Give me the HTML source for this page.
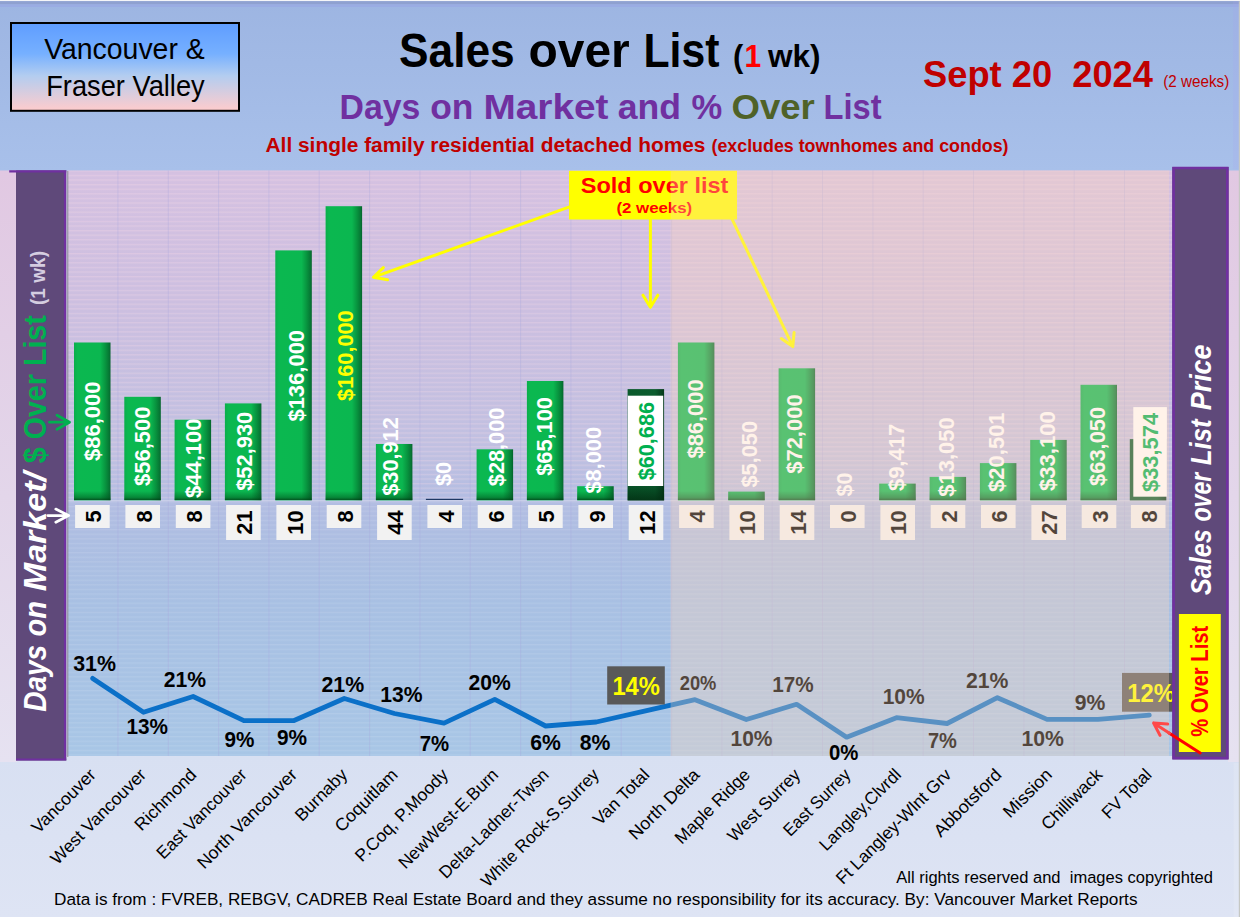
<!DOCTYPE html>
<html lang="en"><head><meta charset="utf-8"><title>Sales over List - Vancouver &amp; Fraser Valley</title>
<style>
html,body{margin:0;padding:0;background:#a3b9e6;}
body{width:1240px;height:917px;overflow:hidden;}
svg{display:block;font-family:"Liberation Sans", sans-serif;}
text{font-family:"Liberation Sans", sans-serif;white-space:pre;}
</style></head><body>
<svg width="1240" height="917" viewBox="0 0 1240 917">
<defs>
<linearGradient id="gHead" x1="0" y1="0" x2="0" y2="1"><stop offset="0" stop-color="#9db5e2"/><stop offset="1" stop-color="#a8c0ea"/></linearGradient>
<linearGradient id="gSide" x1="0" y1="0" x2="0" y2="1"><stop offset="0" stop-color="#e1c8e2"/><stop offset="0.55" stop-color="#e3d6ea"/><stop offset="1" stop-color="#e6e2f1"/></linearGradient>
<linearGradient id="gFoot" x1="0" y1="0" x2="0" y2="1"><stop offset="0" stop-color="#d8e0f2"/><stop offset="1" stop-color="#dee4f4"/></linearGradient>
<linearGradient id="gPlot" x1="0" y1="0" x2="0" y2="1">
 <stop offset="0" stop-color="#d5c1e1"/><stop offset="0.22" stop-color="#cdbfe0"/><stop offset="0.48" stop-color="#c0c0e1"/><stop offset="0.56" stop-color="#b3bde2"/><stop offset="0.63" stop-color="#adbee2"/><stop offset="0.74" stop-color="#a8c0e3"/><stop offset="1" stop-color="#a8c6e6"/></linearGradient>
<linearGradient id="gBox" x1="0" y1="0" x2="0" y2="1"><stop offset="0" stop-color="#5f9dff"/><stop offset="0.35" stop-color="#76b0ff"/><stop offset="0.6" stop-color="#b3cdf0"/><stop offset="1" stop-color="#ffcccc"/></linearGradient>
<linearGradient id="gBar" x1="0" y1="0" x2="1" y2="0"><stop offset="0" stop-color="#0aae4b"/><stop offset="0.1" stop-color="#0bb850"/><stop offset="0.72" stop-color="#0bb750"/><stop offset="0.86" stop-color="#08943f"/><stop offset="0.97" stop-color="#067433"/><stop offset="1" stop-color="#05602b"/></linearGradient>
<linearGradient id="gBarB" x1="0" y1="0" x2="0" y2="1"><stop offset="0" stop-color="#004d1c" stop-opacity="0"/><stop offset="0.7" stop-color="#004d1c" stop-opacity="0.45"/><stop offset="1" stop-color="#003d14" stop-opacity="0.8"/></linearGradient>
<linearGradient id="gBarD" x1="0" y1="0" x2="1" y2="0"><stop offset="0" stop-color="#0a5a2c"/><stop offset="0.75" stop-color="#0b5c2e"/><stop offset="1" stop-color="#04381a"/></linearGradient>
<linearGradient id="gBarDB" x1="0" y1="0" x2="0" y2="1"><stop offset="0" stop-color="#012a10" stop-opacity="0.15"/><stop offset="1" stop-color="#012a10" stop-opacity="0.75"/></linearGradient>
<pattern id="stripes" width="8" height="4.6" patternUnits="userSpaceOnUse"><rect x="0" y="0" width="8" height="1.3" fill="#ffffff" fill-opacity="0.10"/></pattern>
<pattern id="stripesP" width="8" height="4.6" patternUnits="userSpaceOnUse"><rect x="0" y="0" width="8" height="1.3" fill="#ffd0d8" fill-opacity="0.16"/></pattern>
</defs>

<rect x="0" y="0" width="1240" height="171" fill="url(#gHead)"/>
<rect x="0" y="0" width="1240" height="1.2" fill="#f4f5f8"/>
<rect x="0" y="1.2" width="1240" height="3.2" fill="#8fa1d0"/>
<rect x="0" y="4.4" width="1240" height="2.6" fill="#9aace3"/>
<rect x="0" y="756" width="1240" height="161" fill="url(#gFoot)"/>
<rect x="0" y="170.5" width="17" height="591.5" fill="url(#gSide)"/>
<rect x="1228" y="170.5" width="12" height="591.5" fill="url(#gSide)"/>
<rect x="1233" y="1.2" width="5.8" height="168" fill="#a8a0f0" fill-opacity="0.16"/>
<rect x="1233.6" y="763" width="5.2" height="154" fill="#ffffff" fill-opacity="0.14"/>
<rect x="67.5" y="170.5" width="1105.0" height="585.5" fill="url(#gPlot)"/>
<rect x="67.5" y="170.5" width="1105.0" height="585.5" fill="url(#stripes)"/>
<rect x="67.5" y="170.5" width="1105.0" height="329.5" fill="url(#stripesP)"/>
<path d="M117.9 170.5V756 M168.3 170.5V756 M218.6 170.5V756 M268.9 170.5V756 M319.2 170.5V756 M369.6 170.5V756 M419.9 170.5V756 M470.2 170.5V756 M520.6 170.5V756 M570.9 170.5V756 M621.2 170.5V756 M671.6 170.5V756 M721.9 170.5V756 M772.2 170.5V756 M822.5 170.5V756 M872.9 170.5V756 M923.2 170.5V756 M973.5 170.5V756 M1023.9 170.5V756 M1074.2 170.5V756 M1124.5 170.5V756" stroke="#a9a6dc" stroke-opacity="0.32" stroke-width="1" fill="none"/>
<rect x="67.5" y="500.0" width="1105.0" height="1.4" fill="#d3d6ec" fill-opacity="0.7"/>
<rect x="66.3" y="171" width="1" height="586" fill="#f1ecf6"/>
<rect x="67.3" y="171" width="1" height="586" fill="#8b8b93"/>
<rect x="74.0" y="342.5" width="36.5" height="157.9" fill="url(#gBar)"/>
<rect x="74.0" y="491.0" width="36.5" height="9.0" fill="url(#gBarB)"/>
<rect x="124.3" y="396.8" width="36.5" height="103.6" fill="url(#gBar)"/>
<rect x="124.3" y="491.0" width="36.5" height="9.0" fill="url(#gBarB)"/>
<rect x="174.6" y="419.7" width="36.5" height="80.7" fill="url(#gBar)"/>
<rect x="174.6" y="491.0" width="36.5" height="9.0" fill="url(#gBarB)"/>
<rect x="224.9" y="403.4" width="36.5" height="97.0" fill="url(#gBar)"/>
<rect x="224.9" y="491.0" width="36.5" height="9.0" fill="url(#gBarB)"/>
<rect x="275.3" y="250.4" width="36.5" height="250.0" fill="url(#gBar)"/>
<rect x="275.3" y="491.0" width="36.5" height="9.0" fill="url(#gBarB)"/>
<rect x="325.6" y="206.2" width="36.5" height="294.2" fill="url(#gBar)"/>
<rect x="325.6" y="491.0" width="36.5" height="9.0" fill="url(#gBarB)"/>
<rect x="375.9" y="444.0" width="36.5" height="56.4" fill="url(#gBar)"/>
<rect x="375.9" y="491.0" width="36.5" height="9.0" fill="url(#gBarB)"/>
<rect x="425.9" y="498.8" width="37.2" height="1.2" fill="#1f3864"/>
<rect x="476.6" y="449.3" width="36.5" height="51.1" fill="url(#gBar)"/>
<rect x="476.6" y="491.0" width="36.5" height="9.0" fill="url(#gBarB)"/>
<rect x="526.9" y="381.0" width="36.5" height="119.4" fill="url(#gBar)"/>
<rect x="526.9" y="491.0" width="36.5" height="9.0" fill="url(#gBarB)"/>
<rect x="577.2" y="486.2" width="36.5" height="14.2" fill="url(#gBar)"/>
<rect x="577.2" y="491.0" width="36.5" height="9.0" fill="url(#gBarB)"/>
<rect x="627.6" y="389.1" width="36.5" height="111.3" fill="url(#gBarD)"/>
<rect x="627.6" y="486.0" width="36.5" height="14.4" fill="url(#gBarDB)"/>
<rect x="677.9" y="342.5" width="36.5" height="157.9" fill="url(#gBar)"/>
<rect x="677.9" y="491.0" width="36.5" height="9.0" fill="url(#gBarB)"/>
<rect x="728.2" y="491.6" width="36.5" height="8.8" fill="url(#gBar)"/>
<rect x="728.2" y="491.2" width="36.5" height="8.8" fill="url(#gBarB)"/>
<rect x="778.6" y="368.3" width="36.5" height="132.1" fill="url(#gBar)"/>
<rect x="778.6" y="491.0" width="36.5" height="9.0" fill="url(#gBarB)"/>
<rect x="879.2" y="483.6" width="36.5" height="16.8" fill="url(#gBar)"/>
<rect x="879.2" y="491.0" width="36.5" height="9.0" fill="url(#gBarB)"/>
<rect x="929.6" y="476.9" width="36.5" height="23.5" fill="url(#gBar)"/>
<rect x="929.6" y="491.0" width="36.5" height="9.0" fill="url(#gBarB)"/>
<rect x="979.9" y="463.1" width="36.5" height="37.3" fill="url(#gBar)"/>
<rect x="979.9" y="491.0" width="36.5" height="9.0" fill="url(#gBarB)"/>
<rect x="1030.2" y="439.9" width="36.5" height="60.5" fill="url(#gBar)"/>
<rect x="1030.2" y="491.0" width="36.5" height="9.0" fill="url(#gBarB)"/>
<rect x="1080.5" y="384.8" width="36.5" height="115.6" fill="url(#gBar)"/>
<rect x="1080.5" y="491.0" width="36.5" height="9.0" fill="url(#gBarB)"/>
<rect x="1129.8" y="439.1" width="36.5" height="61.3" fill="url(#gBarD)"/>
<rect x="627.8" y="395.7" width="35.4" height="90.3" fill="#ffffff"/>
<rect x="1133.3" y="407.1" width="33.6" height="89.6" fill="#ffffff"/>
<text font-size="22.62" font-weight="700" fill="#ffffff" textLength="79.40" lengthAdjust="spacingAndGlyphs" transform="translate(100.10 460.90) rotate(-90)" >$86,000</text>
<text font-size="22.62" font-weight="700" fill="#ffffff" textLength="79.40" lengthAdjust="spacingAndGlyphs" transform="translate(150.03 485.90) rotate(-90)" >$56,500</text>
<text font-size="22.62" font-weight="700" fill="#ffffff" textLength="79.40" lengthAdjust="spacingAndGlyphs" transform="translate(200.56 498.00) rotate(-90)" >$44,100</text>
<text font-size="22.62" font-weight="700" fill="#ffffff" textLength="79.10" lengthAdjust="spacingAndGlyphs" transform="translate(252.49 490.80) rotate(-90)" >$52,930</text>
<text font-size="22.62" font-weight="700" fill="#ffffff" textLength="91.70" lengthAdjust="spacingAndGlyphs" transform="translate(303.52 421.60) rotate(-90)" >$136,000</text>
<text font-size="22.62" font-weight="700" fill="#ffff00" textLength="90.60" lengthAdjust="spacingAndGlyphs" transform="translate(353.15 400.90) rotate(-90)" >$160,000</text>
<text font-size="22.62" font-weight="700" fill="#ffffff" textLength="78.60" lengthAdjust="spacingAndGlyphs" transform="translate(398.18 495.80) rotate(-90)" >$30,912</text>
<text font-size="22.62" font-weight="700" fill="#ffffff" textLength="24.10" lengthAdjust="spacingAndGlyphs" transform="translate(450.61 486.00) rotate(-90)" >$0</text>
<text font-size="22.62" font-weight="700" fill="#ffffff" textLength="78.60" lengthAdjust="spacingAndGlyphs" transform="translate(503.74 486.20) rotate(-90)" >$28,000</text>
<text font-size="22.62" font-weight="700" fill="#ffffff" textLength="78.70" lengthAdjust="spacingAndGlyphs" transform="translate(551.87 475.80) rotate(-90)" >$65,100</text>
<text font-size="22.62" font-weight="700" fill="#ffffff" textLength="66.50" lengthAdjust="spacingAndGlyphs" transform="translate(600.80 493.50) rotate(-90)" >$8,000</text>
<text font-size="22.62" font-weight="700" fill="#00b050" textLength="78.30" lengthAdjust="spacingAndGlyphs" transform="translate(653.93 480.30) rotate(-90)" >$60,686</text>
<text font-size="22.62" font-weight="700" fill="#ffffff" textLength="79.10" lengthAdjust="spacingAndGlyphs" transform="translate(703.16 458.50) rotate(-90)" >$86,000</text>
<text font-size="22.62" font-weight="700" fill="#ffffff" textLength="66.50" lengthAdjust="spacingAndGlyphs" transform="translate(756.69 487.50) rotate(-90)" >$5,050</text>
<text font-size="22.62" font-weight="700" fill="#ffffff" textLength="79.40" lengthAdjust="spacingAndGlyphs" transform="translate(801.62 473.80) rotate(-90)" >$72,000</text>
<text font-size="22.62" font-weight="700" fill="#ffffff" textLength="23.80" lengthAdjust="spacingAndGlyphs" transform="translate(851.75 496.40) rotate(-90)" >$0</text>
<text font-size="22.62" font-weight="700" fill="#ffffff" textLength="67.30" lengthAdjust="spacingAndGlyphs" transform="translate(903.78 491.10) rotate(-90)" >$9,417</text>
<text font-size="22.62" font-weight="700" fill="#ffffff" textLength="79.40" lengthAdjust="spacingAndGlyphs" transform="translate(954.11 496.70) rotate(-90)" >$13,050</text>
<text font-size="22.62" font-weight="700" fill="#ffffff" textLength="79.50" lengthAdjust="spacingAndGlyphs" transform="translate(1004.14 491.90) rotate(-90)" >$20,501</text>
<text font-size="22.62" font-weight="700" fill="#ffffff" textLength="79.90" lengthAdjust="spacingAndGlyphs" transform="translate(1054.57 491.10) rotate(-90)" >$33,100</text>
<text font-size="22.62" font-weight="700" fill="#ffffff" textLength="79.10" lengthAdjust="spacingAndGlyphs" transform="translate(1105.10 485.90) rotate(-90)" >$63,050</text>
<text font-size="22.62" font-weight="700" fill="#00b050" textLength="79.10" lengthAdjust="spacingAndGlyphs" transform="translate(1158.15 492.00) rotate(-90)" >$33,574</text>
<rect x="75.1" y="505" width="34.6" height="23" fill="#f2f2f2"/>
<text font-size="22.62" font-weight="700" fill="#000" textLength="12.16" lengthAdjust="spacingAndGlyphs" transform="translate(101.20 522.58) rotate(-90)" >5</text>
<rect x="125.4" y="505" width="34.6" height="23" fill="#f2f2f2"/>
<text font-size="22.62" font-weight="700" fill="#000" textLength="12.16" lengthAdjust="spacingAndGlyphs" transform="translate(151.53 522.58) rotate(-90)" >8</text>
<rect x="175.8" y="505" width="34.6" height="23" fill="#f2f2f2"/>
<text font-size="22.62" font-weight="700" fill="#000" textLength="12.16" lengthAdjust="spacingAndGlyphs" transform="translate(201.86 522.58) rotate(-90)" >8</text>
<rect x="226.1" y="505" width="34.6" height="35" fill="#f2f2f2"/>
<text font-size="22.62" font-weight="700" fill="#000" textLength="24.33" lengthAdjust="spacingAndGlyphs" transform="translate(252.19 534.66) rotate(-90)" >21</text>
<rect x="276.4" y="505" width="34.6" height="35" fill="#f2f2f2"/>
<text font-size="22.62" font-weight="700" fill="#000" textLength="24.33" lengthAdjust="spacingAndGlyphs" transform="translate(302.52 534.66) rotate(-90)" >10</text>
<rect x="326.7" y="505" width="34.6" height="23" fill="#f2f2f2"/>
<text font-size="22.62" font-weight="700" fill="#000" textLength="12.16" lengthAdjust="spacingAndGlyphs" transform="translate(352.85 522.58) rotate(-90)" >8</text>
<rect x="377.1" y="505" width="34.6" height="35" fill="#f2f2f2"/>
<text font-size="22.62" font-weight="700" fill="#000" textLength="24.33" lengthAdjust="spacingAndGlyphs" transform="translate(403.18 534.66) rotate(-90)" >44</text>
<rect x="427.4" y="505" width="34.6" height="23" fill="#f2f2f2"/>
<text font-size="22.62" font-weight="700" fill="#000" textLength="12.16" lengthAdjust="spacingAndGlyphs" transform="translate(453.51 522.58) rotate(-90)" >4</text>
<rect x="477.7" y="505" width="34.6" height="23" fill="#f2f2f2"/>
<text font-size="22.62" font-weight="700" fill="#000" textLength="12.16" lengthAdjust="spacingAndGlyphs" transform="translate(503.84 522.58) rotate(-90)" >6</text>
<rect x="528.1" y="505" width="34.6" height="23" fill="#f2f2f2"/>
<text font-size="22.62" font-weight="700" fill="#000" textLength="12.16" lengthAdjust="spacingAndGlyphs" transform="translate(554.17 522.58) rotate(-90)" >5</text>
<rect x="578.4" y="505" width="34.6" height="23" fill="#f2f2f2"/>
<text font-size="22.62" font-weight="700" fill="#000" textLength="12.16" lengthAdjust="spacingAndGlyphs" transform="translate(604.50 522.58) rotate(-90)" >9</text>
<rect x="628.7" y="505" width="34.6" height="35" fill="#f2f2f2"/>
<text font-size="22.62" font-weight="700" fill="#000" textLength="24.33" lengthAdjust="spacingAndGlyphs" transform="translate(654.83 534.66) rotate(-90)" >12</text>
<rect x="679.1" y="505" width="34.6" height="23" fill="#f2f2f2"/>
<text font-size="22.62" font-weight="700" fill="#000" textLength="12.16" lengthAdjust="spacingAndGlyphs" transform="translate(705.16 522.58) rotate(-90)" >4</text>
<rect x="729.4" y="505" width="34.6" height="35" fill="#f2f2f2"/>
<text font-size="22.62" font-weight="700" fill="#000" textLength="24.33" lengthAdjust="spacingAndGlyphs" transform="translate(755.49 534.66) rotate(-90)" >10</text>
<rect x="779.7" y="505" width="34.6" height="35" fill="#f2f2f2"/>
<text font-size="22.62" font-weight="700" fill="#000" textLength="24.33" lengthAdjust="spacingAndGlyphs" transform="translate(805.82 534.66) rotate(-90)" >14</text>
<rect x="830.0" y="505" width="34.6" height="23" fill="#f2f2f2"/>
<text font-size="22.62" font-weight="700" fill="#000" textLength="12.16" lengthAdjust="spacingAndGlyphs" transform="translate(856.15 522.58) rotate(-90)" >0</text>
<rect x="880.4" y="505" width="34.6" height="35" fill="#f2f2f2"/>
<text font-size="22.62" font-weight="700" fill="#000" textLength="24.33" lengthAdjust="spacingAndGlyphs" transform="translate(906.48 534.66) rotate(-90)" >10</text>
<rect x="930.7" y="505" width="34.6" height="23" fill="#f2f2f2"/>
<text font-size="22.62" font-weight="700" fill="#000" textLength="12.16" lengthAdjust="spacingAndGlyphs" transform="translate(956.81 522.58) rotate(-90)" >2</text>
<rect x="981.0" y="505" width="34.6" height="23" fill="#f2f2f2"/>
<text font-size="22.62" font-weight="700" fill="#000" textLength="12.16" lengthAdjust="spacingAndGlyphs" transform="translate(1007.14 522.58) rotate(-90)" >6</text>
<rect x="1031.4" y="505" width="34.6" height="35" fill="#f2f2f2"/>
<text font-size="22.62" font-weight="700" fill="#000" textLength="24.33" lengthAdjust="spacingAndGlyphs" transform="translate(1057.47 534.66) rotate(-90)" >27</text>
<rect x="1081.7" y="505" width="34.6" height="23" fill="#f2f2f2"/>
<text font-size="22.62" font-weight="700" fill="#000" textLength="12.16" lengthAdjust="spacingAndGlyphs" transform="translate(1107.80 522.58) rotate(-90)" >3</text>
<rect x="1130.9" y="505" width="34.6" height="23" fill="#f2f2f2"/>
<text font-size="22.62" font-weight="700" fill="#000" textLength="12.16" lengthAdjust="spacingAndGlyphs" transform="translate(1157.00 522.58) rotate(-90)" >8</text>
<path d="M92.7 678.4 L143.5 712.3 L193.1 696.5 L243.9 720.7 L293.5 720.7 L344.3 698.5 L394.4 713.5 L444.0 723.2 L494.8 699.4 L545.6 726.0 L596.3 722.0 L645.5 710.8 L695.0 699.7 L746.3 719.5 L796.6 704.3 L846.6 737.2 L896.5 717.7 L947.1 723.5 L997.4 697.7 L1047.1 719.4 L1098.0 719.4 L1149.3 715.1" stroke="#0b70c8" stroke-width="4.8" fill="none" stroke-linejoin="round" stroke-linecap="round"/>
<text font-size="22.62" font-weight="700" fill="#000" textLength="42.80" lengthAdjust="spacingAndGlyphs" x="73.20" y="671.10" >31%</text>
<text font-size="22.62" font-weight="700" fill="#000" textLength="41.50" lengthAdjust="spacingAndGlyphs" x="126.50" y="733.90" >13%</text>
<text font-size="22.62" font-weight="700" fill="#000" textLength="42.30" lengthAdjust="spacingAndGlyphs" x="163.70" y="687.10" >21%</text>
<text font-size="22.62" font-weight="700" fill="#000" textLength="29.90" lengthAdjust="spacingAndGlyphs" x="224.50" y="747.10" >9%</text>
<text font-size="22.62" font-weight="700" fill="#000" textLength="30.10" lengthAdjust="spacingAndGlyphs" x="277.00" y="744.80" >9%</text>
<text font-size="22.62" font-weight="700" fill="#000" textLength="42.70" lengthAdjust="spacingAndGlyphs" x="321.50" y="692.30" >21%</text>
<text font-size="22.62" font-weight="700" fill="#000" textLength="42.30" lengthAdjust="spacingAndGlyphs" x="380.20" y="701.80" >13%</text>
<text font-size="22.62" font-weight="700" fill="#000" textLength="29.40" lengthAdjust="spacingAndGlyphs" x="419.70" y="750.90" >7%</text>
<text font-size="22.62" font-weight="700" fill="#000" textLength="42.20" lengthAdjust="spacingAndGlyphs" x="468.60" y="690.40" >20%</text>
<text font-size="22.62" font-weight="700" fill="#000" textLength="30.60" lengthAdjust="spacingAndGlyphs" x="530.20" y="750.40" >6%</text>
<text font-size="22.62" font-weight="700" fill="#000" textLength="30.60" lengthAdjust="spacingAndGlyphs" x="579.80" y="750.40" >8%</text>
<text font-size="19.32" font-weight="700" fill="#000" textLength="36.70" lengthAdjust="spacingAndGlyphs" x="679.70" y="690.40" >20%</text>
<text font-size="22.62" font-weight="700" fill="#000" textLength="42.00" lengthAdjust="spacingAndGlyphs" x="730.50" y="746.10" >10%</text>
<text font-size="21.68" font-weight="700" fill="#000" textLength="41.40" lengthAdjust="spacingAndGlyphs" x="772.20" y="692.30" >17%</text>
<text font-size="22.62" font-weight="700" fill="#000" textLength="42.00" lengthAdjust="spacingAndGlyphs" x="882.70" y="704.30" >10%</text>
<text font-size="22.62" font-weight="700" fill="#000" textLength="29.00" lengthAdjust="spacingAndGlyphs" x="927.90" y="747.90" >7%</text>
<text font-size="22.62" font-weight="700" fill="#000" textLength="42.50" lengthAdjust="spacingAndGlyphs" x="966.00" y="687.60" >21%</text>
<text font-size="22.62" font-weight="700" fill="#000" textLength="42.50" lengthAdjust="spacingAndGlyphs" x="1021.50" y="745.60" >10%</text>
<text font-size="22.62" font-weight="700" fill="#000" textLength="30.60" lengthAdjust="spacingAndGlyphs" x="1074.70" y="710.10" >9%</text>
<rect x="607.2" y="666.3" width="57.6" height="38.2" fill="#595959"/>
<text font-size="25.16" font-weight="700" fill="#ffff00" textLength="47.60" lengthAdjust="spacingAndGlyphs" x="612.40" y="694.80" >14%</text>
<rect x="1122" y="672.9" width="51" height="38.8" fill="#595959"/>
<text font-size="25.16" font-weight="700" fill="#ffff00" textLength="47.60" lengthAdjust="spacingAndGlyphs" x="1127.20" y="702.00" >12%</text>
<g stroke="#ffff00" stroke-width="3" fill="none" stroke-linecap="round" stroke-linejoin="round">
<path d="M569.5 206.9 L373.6 277.2 M383.3 267.6 L373.4 277.3 L387.6 279.7"/>
<path d="M650.4 219 V306.5 M643 295.2 L650.4 307.3 L657.8 295.2"/>
<path d="M732.2 219.3 L792.7 346.3 M781.3 338.5 L792.8 346.6 L794.1 332.4"/>
</g>
<rect x="569" y="170.8" width="168" height="48.7" fill="#ffff00"/>
<text font-size="22.81" font-weight="700" fill="#ff0000" textLength="147.60" lengthAdjust="spacingAndGlyphs" x="580.80" y="193.00" >Sold over list</text>
<text font-size="15.55" font-weight="700" fill="#ff0000" textLength="75.80" lengthAdjust="spacingAndGlyphs" x="616.40" y="212.80" >(2 weeks)</text>
<rect x="670.6" y="170.5" width="498.4" height="585.5" fill="#ffd8bc" fill-opacity="0.32"/>
<text font-size="22.62" font-weight="700" fill="#000" textLength="29.40" lengthAdjust="spacingAndGlyphs" x="829.00" y="760.20" >0%</text>
<rect x="16" y="170.5" width="50.3" height="590" fill="#5f497a"/>
<path d="M9.2 171.4H66.3 M65 170.5V760.5 M16 759.5H66.3" stroke="#7030a0" stroke-width="2.2" fill="none"/>
<text font-size="32.05" font-weight="700" font-style="italic" fill="#ffffff" textLength="66.80" lengthAdjust="spacingAndGlyphs" transform="translate(46.20 711.70) rotate(-90)" >Days</text>
<text font-size="32.05" font-weight="700" font-style="italic" fill="#ffffff" textLength="35.60" lengthAdjust="spacingAndGlyphs" transform="translate(46.20 636.60) rotate(-90)" >on</text>
<text font-size="32.05" font-weight="700" font-style="italic" fill="#ffffff" textLength="119.20" lengthAdjust="spacingAndGlyphs" transform="translate(46.20 591.20) rotate(-90)" >Market/</text>
<text font-size="31.10" font-weight="700" fill="#00b050" textLength="148.00" lengthAdjust="spacingAndGlyphs" transform="translate(45.80 463.20) rotate(-90)" >$ Over List</text>
<text font-size="20.73" font-weight="700" fill="#d5cde0" textLength="54.00" lengthAdjust="spacingAndGlyphs" transform="translate(45.40 305.00) rotate(-90)" >(1 wk)</text>
<path d="M49.5 422.2H69 M57 415.2L69.5 422.2L57 429.2" stroke="#00b050" stroke-width="2.8" fill="none" stroke-linecap="round" stroke-linejoin="round"/>
<path d="M47.8 515.6H68.3 M55.8 509.1L68.6 515.6L55.8 522.2" stroke="#ffffff" stroke-width="2.8" fill="none" stroke-linecap="round" stroke-linejoin="round"/>
<rect x="1172.3" y="167" width="56.3" height="592.3" fill="#5f497a"/>
<path d="M1173.6 167V759.3 M1227.3 167V759.3 M1172.3 168H1228.6 M1172.3 758.1H1228.6" stroke="#7030a0" stroke-width="2.6" fill="none"/>
<text font-size="30.16" font-weight="700" font-style="italic" fill="#ffffff" textLength="65.70" lengthAdjust="spacingAndGlyphs" transform="translate(1211.00 594.90) rotate(-90)" >Sales</text>
<text font-size="30.16" font-weight="700" font-style="italic" fill="#ffffff" textLength="48.90" lengthAdjust="spacingAndGlyphs" transform="translate(1211.00 521.60) rotate(-90)" >over</text>
<text font-size="30.16" font-weight="700" font-style="italic" fill="#ffffff" textLength="45.90" lengthAdjust="spacingAndGlyphs" transform="translate(1211.00 465.20) rotate(-90)" >List</text>
<text font-size="30.16" font-weight="700" font-style="italic" fill="#ffffff" textLength="65.70" lengthAdjust="spacingAndGlyphs" transform="translate(1211.00 410.20) rotate(-90)" >Price</text>
<rect x="1178.9" y="614" width="41.9" height="138" fill="#ffff00"/>
<text font-size="24.50" font-weight="700" fill="#ff0000" textLength="111.00" lengthAdjust="spacingAndGlyphs" transform="translate(1207.50 736.80) rotate(-90)" >% Over List</text>
<path d="M1200.2 753 L1169 733" stroke="#ff0000" stroke-width="3" fill="none" stroke-linecap="round"/>
<path d="M1169.5 733.3 L1153.6 723.1 M1167.7 724.1 L1153.6 723.1 L1160 735.3" stroke="#ff4848" stroke-width="3" fill="none" stroke-linecap="round" stroke-linejoin="round"/>
<rect x="11" y="23" width="228" height="87.8" fill="url(#gBox)" stroke="#000" stroke-width="2"/>
<text font-size="28.91" fill="#000" textLength="160.50" lengthAdjust="spacingAndGlyphs" x="44.20" y="58.80" >Vancouver &amp;</text>
<text font-size="28.91" fill="#000" textLength="158.50" lengthAdjust="spacingAndGlyphs" x="46.20" y="95.80" >Fraser Valley</text>
<text font-size="49.01" font-weight="700" fill="#000" textLength="115.75" lengthAdjust="spacingAndGlyphs" x="399.00" y="67.00" >Sales</text>
<text font-size="49.01" font-weight="700" fill="#000" textLength="101.25" lengthAdjust="spacingAndGlyphs" x="528.50" y="67.00" >over</text>
<text font-size="49.01" font-weight="700" fill="#000" textLength="76.00" lengthAdjust="spacingAndGlyphs" x="643.50" y="67.00" >List</text>
<text font-size="31.10" font-weight="700" fill="#000" textLength="10.28" lengthAdjust="spacingAndGlyphs" x="733.00" y="67.00" >(</text>
<text font-size="31.10" font-weight="700" fill="#ff0000" textLength="16.73" lengthAdjust="spacingAndGlyphs" x="744.50" y="67.00" >1</text>
<text font-size="31.10" font-weight="700" fill="#000" textLength="52.50" lengthAdjust="spacingAndGlyphs" x="768.00" y="67.00" >wk)</text>
<text font-size="35.34" font-weight="700" fill="#7030a0" textLength="80.75" lengthAdjust="spacingAndGlyphs" x="339.50" y="119.20" >Days</text>
<text font-size="35.34" font-weight="700" fill="#7030a0" textLength="43.25" lengthAdjust="spacingAndGlyphs" x="430.25" y="119.20" >on</text>
<text font-size="35.34" font-weight="700" fill="#7030a0" textLength="125.00" lengthAdjust="spacingAndGlyphs" x="483.50" y="119.20" >Market</text>
<text font-size="35.34" font-weight="700" fill="#7030a0" textLength="63.25" lengthAdjust="spacingAndGlyphs" x="617.75" y="119.20" >and</text>
<text font-size="35.34" font-weight="700" fill="#7030a0" textLength="30.75" lengthAdjust="spacingAndGlyphs" x="691.50" y="119.20" >%</text>
<text font-size="35.34" font-weight="700" fill="#4f6228" textLength="83.25" lengthAdjust="spacingAndGlyphs" x="731.50" y="119.20" >Over</text>
<text font-size="35.34" font-weight="700" fill="#7030a0" textLength="58.00" lengthAdjust="spacingAndGlyphs" x="823.50" y="119.20" >List</text>
<text font-size="21.02" font-weight="700" fill="#c00000" textLength="440.00" lengthAdjust="spacingAndGlyphs" x="265.50" y="152.20" >All single family residential detached homes</text>
<text font-size="18.28" font-weight="700" fill="#c00000" textLength="297.00" lengthAdjust="spacingAndGlyphs" x="711.50" y="152.20" >(excludes townhomes and condos)</text>
<text font-size="36.29" font-weight="700" fill="#c00000" textLength="230.00" lengthAdjust="spacingAndGlyphs" x="923.00" y="86.80" >Sept 20  2024</text>
<text font-size="16.13" fill="#c00000" textLength="66.00" lengthAdjust="spacingAndGlyphs" x="1163.30" y="86.80" >(2 weeks)</text>
<text font-size="17.41" fill="#000" text-anchor="end" textLength="82.54" lengthAdjust="spacingAndGlyphs" transform="translate(96.80 775.80) rotate(-45)" >Vancouver</text>
<text font-size="17.41" fill="#000" text-anchor="end" textLength="126.82" lengthAdjust="spacingAndGlyphs" transform="translate(147.13 775.80) rotate(-45)" >West Vancouver</text>
<text font-size="17.41" fill="#000" text-anchor="end" textLength="79.18" lengthAdjust="spacingAndGlyphs" transform="translate(197.46 775.80) rotate(-45)" >Richmond</text>
<text font-size="17.41" fill="#000" text-anchor="end" textLength="119.09" lengthAdjust="spacingAndGlyphs" transform="translate(247.79 775.80) rotate(-45)" >East Vancouver</text>
<text font-size="17.41" fill="#000" text-anchor="end" textLength="132.93" lengthAdjust="spacingAndGlyphs" transform="translate(298.12 775.80) rotate(-45)" >North Vancouver</text>
<text font-size="17.41" fill="#000" text-anchor="end" textLength="65.61" lengthAdjust="spacingAndGlyphs" transform="translate(348.45 775.80) rotate(-45)" >Burnaby</text>
<text font-size="17.41" fill="#000" text-anchor="end" textLength="80.83" lengthAdjust="spacingAndGlyphs" transform="translate(398.78 775.80) rotate(-45)" >Coquitlam</text>
<text font-size="17.41" fill="#000" text-anchor="end" textLength="123.07" lengthAdjust="spacingAndGlyphs" transform="translate(449.11 775.80) rotate(-45)" >P.Coq, P.Moody</text>
<text font-size="17.41" fill="#000" text-anchor="end" textLength="132.91" lengthAdjust="spacingAndGlyphs" transform="translate(499.44 775.80) rotate(-45)" >NewWest-E.Burn</text>
<text font-size="17.41" fill="#000" text-anchor="end" textLength="146.69" lengthAdjust="spacingAndGlyphs" transform="translate(549.77 775.80) rotate(-45)" >Delta-Ladner-Twsn</text>
<text font-size="17.41" fill="#000" text-anchor="end" textLength="158.70" lengthAdjust="spacingAndGlyphs" transform="translate(600.10 775.80) rotate(-45)" >White Rock-S.Surrey</text>
<text font-size="17.41" fill="#000" text-anchor="end" textLength="71.48" lengthAdjust="spacingAndGlyphs" transform="translate(650.43 775.80) rotate(-45)" >Van Total</text>
<text font-size="17.41" fill="#000" text-anchor="end" textLength="91.83" lengthAdjust="spacingAndGlyphs" transform="translate(700.76 775.80) rotate(-45)" >North Delta</text>
<text font-size="17.41" fill="#000" text-anchor="end" textLength="97.98" lengthAdjust="spacingAndGlyphs" transform="translate(751.09 775.80) rotate(-45)" >Maple Ridge</text>
<text font-size="17.41" fill="#000" text-anchor="end" textLength="94.77" lengthAdjust="spacingAndGlyphs" transform="translate(801.42 775.80) rotate(-45)" >West Surrey</text>
<text font-size="17.41" fill="#000" text-anchor="end" textLength="87.04" lengthAdjust="spacingAndGlyphs" transform="translate(851.75 775.80) rotate(-45)" >East Surrey</text>
<text font-size="17.41" fill="#000" text-anchor="end" textLength="107.27" lengthAdjust="spacingAndGlyphs" transform="translate(902.08 775.80) rotate(-45)" >Langley,Clvrdl</text>
<text font-size="17.41" fill="#000" text-anchor="end" textLength="154.79" lengthAdjust="spacingAndGlyphs" transform="translate(952.41 775.80) rotate(-45)" >Ft Langley-Wlnt Grv</text>
<text font-size="17.41" fill="#000" text-anchor="end" textLength="87.83" lengthAdjust="spacingAndGlyphs" transform="translate(1002.74 775.80) rotate(-45)" >Abbotsford</text>
<text font-size="17.41" fill="#000" text-anchor="end" textLength="60.85" lengthAdjust="spacingAndGlyphs" transform="translate(1053.07 775.80) rotate(-45)" >Mission</text>
<text font-size="17.41" fill="#000" text-anchor="end" textLength="78.00" lengthAdjust="spacingAndGlyphs" transform="translate(1103.40 775.80) rotate(-45)" >Chilliwack</text>
<text font-size="17.41" fill="#000" text-anchor="end" textLength="62.03" lengthAdjust="spacingAndGlyphs" transform="translate(1152.60 775.80) rotate(-45)" >FV Total</text>
<text font-size="16.79" fill="#000" textLength="316.60" lengthAdjust="spacingAndGlyphs" x="896.30" y="882.60" >All rights reserved and  images copyrighted</text>
<text x="54" y="904.6" font-size="16.7" fill="#000" textLength="1083.5" lengthAdjust="spacingAndGlyphs">Data is from : FVREB, REBGV, CADREB Real Estate Board and they assume no responsibility for its accuracy. By: Vancouver Market Reports</text>
<rect x="1238.8" y="1.2" width="1.2" height="917" fill="#c6c8c4"/>
</svg></body></html>
